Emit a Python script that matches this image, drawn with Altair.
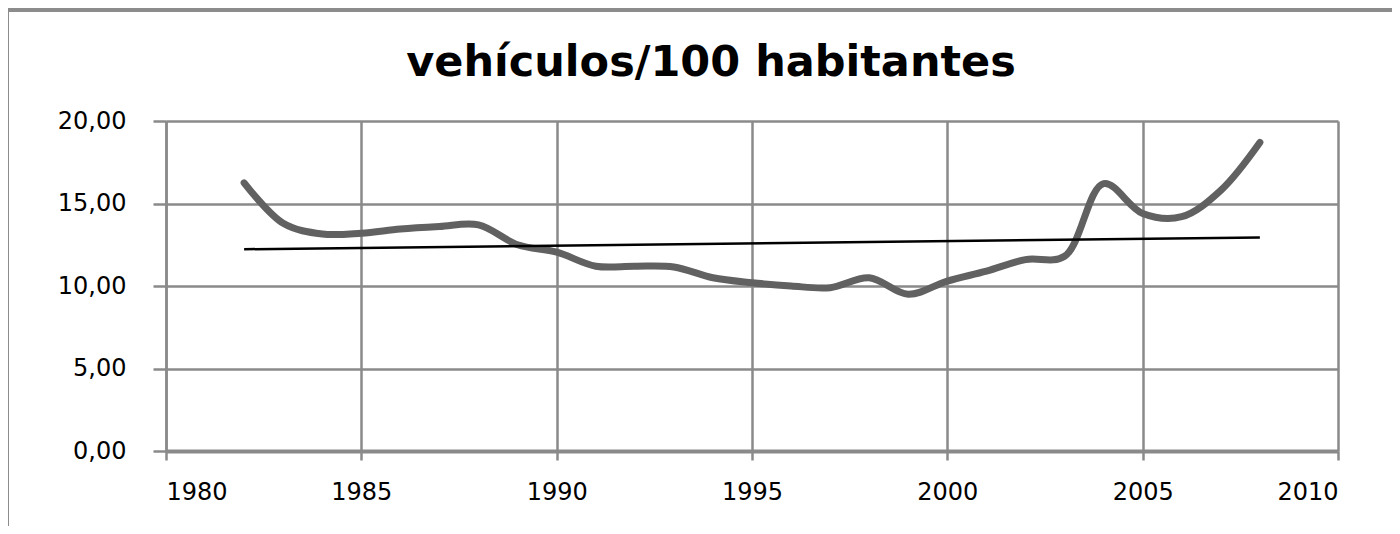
import altair as alt
import pandas as pd

years = list(range(1982, 2009))
values = [16.25, 13.8, 13.15, 13.2, 13.45, 13.6, 13.7, 12.5, 12.05, 11.2,
          11.2, 11.15, 10.5, 10.2, 10.0, 9.9, 10.5, 9.5, 10.3, 10.9,
          11.6, 11.8, 16.2, 14.4, 14.2, 15.8, 18.7]
x_ticks = [1980, 1985, 1990, 1995, 2000, 2005, 2010]
y_ticks = [0, 5, 10, 15, 20]
title_text = "vehículos/100 habitantes"

df = pd.DataFrame({"year": years, "value": values})

GRID = "#8a8a8a"

x_enc = alt.X("year:Q", scale=alt.Scale(domain=[1980, 2010], nice=False),
              axis=alt.Axis(values=x_ticks, format="d", title=None, grid=True,
                            gridColor=GRID, gridWidth=2.5, domainColor=GRID,
                            domainWidth=4, tickColor=GRID, tickWidth=2.5,
                            tickSize=9, labelPadding=20, labelFontSize=24,
                            labelFont="DejaVu Sans", labelColor="#000"))
y_enc = alt.Y("value:Q", scale=alt.Scale(domain=[0, 20], nice=False),
              axis=alt.Axis(values=y_ticks, format=".2f",
                            labelExpr="replace(datum.label, '.', ',')",
                            title=None, grid=True, gridColor=GRID, gridWidth=2.5,
                            domainColor=GRID, domainWidth=2.5, tickColor=GRID,
                            tickWidth=2.5, tickSize=13, labelPadding=27,
                            labelFontSize=24, labelFont="DejaVu Sans",
                            labelColor="#000"))

base0 = alt.Chart(pd.DataFrame({"t": [title_text]}))

frame = base0.mark_rect(
    fill=None, stroke="#8c8c8c", strokeWidth=4
).encode(x=alt.value(-159), x2=alt.value(1250), y=alt.value(-111), y2=alt.value(430))

title = base0.mark_text(
    font="DejaVu Sans", fontSize=43, fontWeight="bold", color="#000",
    align="center", baseline="alphabetic"
).encode(text="t:N", x=alt.value(545), y=alt.value(-45))

line = alt.Chart(df).mark_line(
    interpolate="catmull-rom", color="#616161", strokeWidth=7, strokeCap="round"
).encode(x=x_enc, y=y_enc)

trend = alt.Chart(df).transform_regression("year", "value").mark_line(
    color="#000", strokeWidth=2.5
).encode(x="year:Q", y="value:Q")

chart = alt.layer(frame, title, line, trend).properties(
    width=1172, height=330,
    autosize=alt.AutoSizeParams(type="none"),
    padding={"left": 158, "top": 113, "right": 54, "bottom": 75},
).configure_view(stroke=None)

chart.save("out.html", embed_options={"renderer": "svg", "actions": False})
